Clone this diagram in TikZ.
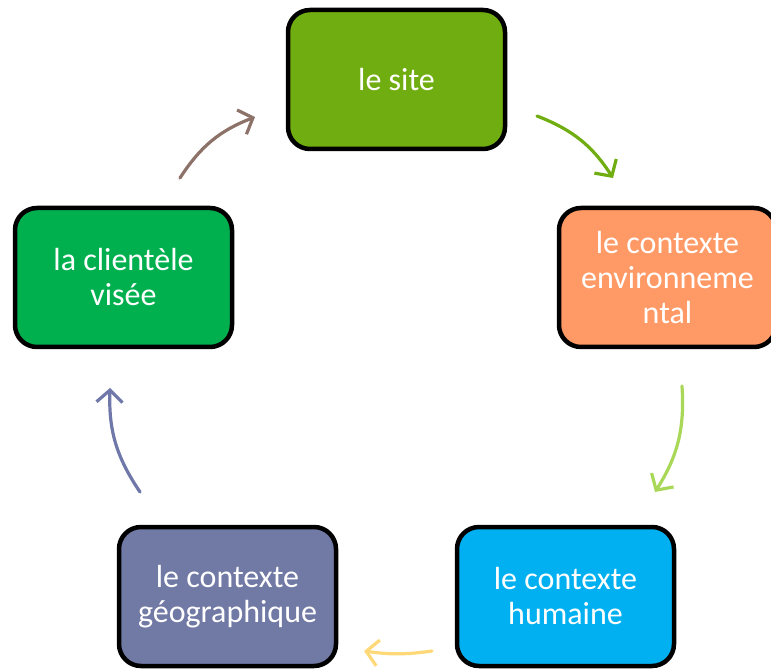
\documentclass[tikz,border=0pt]{standalone}
\usepackage{fontspec}
\setmainfont{Carlito}
\usetikzlibrary{arrows.meta}
\definecolor{cSite}{HTML}{70AD10}
\definecolor{cEnv}{HTML}{FF9A66}
\definecolor{cHum}{HTML}{00B0F0}
\definecolor{cGeo}{HTML}{7179A5}
\definecolor{cCli}{HTML}{00B04F}
\definecolor{aOne}{HTML}{70AD10}
\definecolor{aTwo}{HTML}{A9D858}
\definecolor{aThree}{HTML}{FFD878}
\definecolor{aFour}{HTML}{6F78A8}
\definecolor{aFive}{HTML}{8C7268}
\tikzset{
  stagebox/.style={draw=black, line width=4.5pt, rounded corners=22pt,
    minimum width=217pt, minimum height=139pt, align=center,
    text=white, font=\fontsize{32}{35}\selectfont, inner sep=0pt},
  cyclearrow/.style={line width=3.2pt, line cap=round,
    -{Straight Barb[length=12pt,width=26pt,line width=3.2pt]}, bend left=18}
}
\begin{document}
\begin{tikzpicture}[x=1pt,y=1pt]
\useasboundingbox (0,0) rectangle (771,670);
\clip (0,0) rectangle (771,670);
\node[stagebox, fill=cSite] (site) at (396.5,590.5) {le site};
\node[stagebox, fill=cEnv] (env) at (667.5,392.5) {le contexte\\environneme\\ntal};
\node[stagebox, fill=cHum] (hum) at (565.5,73.5) {le contexte\\humaine};
\node[stagebox, fill=cGeo] (geo) at (227.5,73.5) {le contexte\\géographique};
\node[stagebox, fill=cCli] (cli) at (123.5,392.5) {la clientèle\\visée};
\coordinate (a1s) at (537,554); \coordinate (a1e) at (613,492);
\coordinate (a2s) at (682,284); \coordinate (a2e) at (655,178);
\coordinate (a3s) at (432,19);  \coordinate (a3e) at (364,19);
\coordinate (a4s) at (140,178); \coordinate (a4e) at (110,282);
\coordinate (a5s) at (180,492); \coordinate (a5e) at (255,553);
\draw[cyclearrow, draw=aOne] (a1s) to (a1e);
\draw[cyclearrow, draw=aTwo] (a2s) to (a2e);
\draw[cyclearrow, draw=aThree, bend left=8] (a3s) to (a3e);
\draw[cyclearrow, draw=aFour] (a4s) to (a4e);
\draw[cyclearrow, draw=aFive] (a5s) to (a5e);
\end{tikzpicture}
\end{document}
